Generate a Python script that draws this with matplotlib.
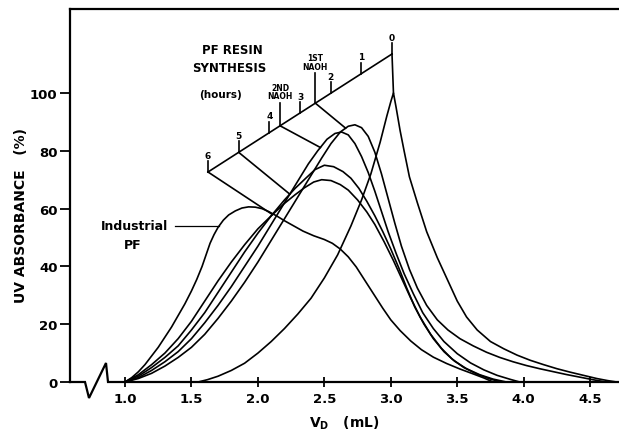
import numpy as np
import matplotlib
matplotlib.use('Agg')
import matplotlib.pyplot as plt

plt.rcParams['font.family'] = ['DejaVu Sans']
plt.rcParams['font.weight'] = 'bold'

# --- data (V in mL, absorbance in %) ---
x_0h = [1.55, 1.62, 1.7, 1.8, 1.9, 2.0, 2.1, 2.2, 2.3, 2.4, 2.5, 2.6, 2.7, 2.78, 2.85, 2.92,
        2.97, 3.0, 3.02, 3.04, 3.07, 3.1, 3.14, 3.2, 3.27, 3.35, 3.43, 3.5, 3.57, 3.65, 3.75,
        3.85, 3.95, 4.05, 4.15, 4.25, 4.35, 4.45, 4.55, 4.63, 4.7]
y_0h = [0, 0.8, 2, 4, 6.5, 10, 14, 18.5, 23.5, 29, 36, 44, 54, 63, 72, 83,
        92, 97, 100, 95, 87, 80, 71, 62, 52, 43, 35, 28, 22.5, 18, 14,
        11.5, 9.3, 7.5, 6, 4.6, 3.4, 2.3, 1.2, 0.5, 0]

x_naoh1 = [1.0, 1.1, 1.2, 1.3, 1.4, 1.5, 1.6, 1.7, 1.8, 1.9, 2.0, 2.1, 2.2, 2.3, 2.4, 2.48,
           2.55, 2.62, 2.68, 2.73, 2.78, 2.83, 2.88, 2.93, 2.98, 3.03, 3.08, 3.14, 3.2, 3.27,
           3.35, 3.43, 3.52, 3.62, 3.72, 3.82, 3.92, 4.02, 4.12, 4.22, 4.32, 4.42, 4.52, 4.62]
y_naoh1 = [0, 1.2, 3, 5.5, 8.5, 12, 16.5, 22, 28, 34.5, 41.5, 49, 56.5, 64, 71.5, 77.5,
           82.5, 86.5, 88.5, 89, 88, 85, 79.5, 72, 63.5, 55, 47, 39, 32.5, 26.5,
           21.5, 18, 15, 12.5, 10.3, 8.5, 7, 5.7, 4.6, 3.6, 2.6, 1.7, 0.8, 0]

x_naoh2 = [1.0, 1.1, 1.2, 1.3, 1.4, 1.5, 1.6, 1.7, 1.8, 1.9, 2.0, 2.1, 2.2, 2.3, 2.38, 2.45,
           2.52, 2.58, 2.63, 2.68, 2.73, 2.78, 2.83, 2.88, 2.93, 2.98, 3.04, 3.1, 3.17, 3.24,
           3.32, 3.4, 3.5, 3.6, 3.7, 3.8, 3.9, 3.97]
y_naoh2 = [0, 1.5, 4, 7, 10.5, 15, 20.5, 26.5, 33, 40, 47, 54.5, 62, 69.5, 75.5, 80,
           84, 86, 86.5, 85.5, 82.5, 78, 72.5, 66, 59, 52, 44.5, 37.5, 30.5, 24,
           18.5, 14, 9.8, 6.6, 4.2, 2.3, 0.9, 0]

x_5h = [1.0, 1.1, 1.2, 1.3, 1.4, 1.5, 1.6, 1.7, 1.8, 1.9, 2.0, 2.1, 2.2, 2.28, 2.36, 2.43,
        2.5, 2.57, 2.64, 2.7, 2.76, 2.82, 2.88, 2.94, 3.0, 3.06, 3.12, 3.18, 3.25, 3.32,
        3.4, 3.48, 3.57, 3.67, 3.77, 3.87]
y_5h = [0, 2, 5, 8.5, 12.5, 18, 24, 31, 38, 45, 51.5, 57.5, 63, 67, 70.5, 73.5,
        75, 74.5, 72.8, 70.5, 67, 62.5, 57.5, 52, 46, 39.5, 32.5, 26, 20, 15,
        10.5, 7.2, 4.6, 2.5, 1, 0]

x_6h = [1.0, 1.1, 1.2, 1.3, 1.4, 1.5, 1.6, 1.7, 1.8, 1.9, 2.0, 2.1, 2.2, 2.28, 2.35, 2.42,
        2.48, 2.55, 2.62, 2.68, 2.75, 2.82, 2.88, 2.95, 3.02, 3.08, 3.15, 3.22, 3.3, 3.38,
        3.46, 3.55, 3.65, 3.75, 3.83]
y_6h = [0, 2.5, 6, 10, 15, 21, 28, 35, 41.5, 47.5, 53, 57.5, 61.8, 64.8, 67.2, 69.2,
        70, 69.7, 68.3, 66.4, 63, 58.8, 54.5, 48.5, 42, 36, 29, 22.5, 16.5, 11.7,
        8, 5, 2.7, 1, 0]

x_ind = [1.0, 1.05, 1.1, 1.15, 1.2, 1.25, 1.3, 1.35, 1.4, 1.45, 1.5, 1.54, 1.58, 1.61, 1.64,
         1.67, 1.7, 1.74, 1.78, 1.83, 1.88, 1.93, 1.98, 2.03, 2.08, 2.14, 2.2, 2.27, 2.34,
         2.42, 2.5, 2.56, 2.62, 2.68, 2.74, 2.8, 2.87, 2.94, 3.0, 3.07, 3.15, 3.23, 3.32,
         3.42, 3.52, 3.62, 3.7, 3.77]
y_ind = [0, 1.5, 3.5, 6, 9, 12, 15.5, 19, 23, 27, 31.5, 35.5, 40, 44, 48,
         51, 53.5, 56, 57.8, 59.2, 60.2, 60.6, 60.5, 60, 59, 57.5, 55.8, 54, 52.2,
         50.6, 49.3, 48, 46, 43.3, 39.8, 35.5, 30.5, 25.5, 21.5, 17.8, 14.2, 11.2, 8.6,
         6.4, 4.5, 2.8, 1.4, 0]

# synthesis time axis: hour ticks and NaOH additions (hours)
hour_ticks = [0, 1, 2, 3, 4, 5, 6]
naoh_times = [2.5, 3.65]
naoh_labels = ['1ST\nNAOH', '2ND\nNAOH']
# which curve each time points to, and V where the pointer meets it
pointers = [(0, x_0h, y_0h, 3.02), (2.5, x_naoh1, y_naoh1, 2.66),
            (3.65, x_naoh2, y_naoh2, 2.47), (5, x_5h, y_5h, 2.24), (6, x_6h, y_6h, 2.11)]

xticks = [1.0, 1.5, 2.0, 2.5, 3.0, 3.5, 4.0, 4.5]
yticks = [0, 20, 40, 60, 80, 100]


def px(x, y):
    # pixel position in the 619x435 picture -> data coords
    return 1 + (x - 125) / 132.9, (383 - y) / 2.89


fig = plt.figure(figsize=(6.19, 4.35), dpi=100)
ax = fig.add_axes([70 / 619, (435 - 383) / 435, 549 / 619, (383 - 10) / 435])
ax.set_xlim(px(70, 0)[0], px(619, 0)[0])
ax.set_ylim(0, px(0, 10)[1])

lw = 1.2
for xs, ys in [(x_0h, y_0h), (x_naoh1, y_naoh1), (x_naoh2, y_naoh2),
               (x_5h, y_5h), (x_6h, y_6h), (x_ind, y_ind)]:
    ax.plot(xs, ys, color='black', lw=lw, solid_joinstyle='round')

# time axis line
p6 = np.array(px(208, 173))
p0 = np.array(px(392, 55))


def tpos(h):
    return p6 + (p0 - p6) * (6 - h) / 6


ax.plot([p6[0], p0[0]], [p6[1], p0[1]], color='black', lw=lw)
for h in hour_ticks:
    b = tpos(h)
    ax.plot([b[0], b[0]], [b[1], b[1] + 3.8], color='black', lw=lw)
    ax.text(b[0], b[1] + 4.3, str(h), ha='center', va='bottom', fontsize=6.5, fontweight='bold')
for h, lab, ln in zip(naoh_times, naoh_labels, [10.5, 8.0]):
    b = tpos(h)
    ax.plot([b[0], b[0]], [b[1], b[1] + ln], color='black', lw=lw)
    ax.text(b[0], b[1] + ln + 0.8, lab, ha='center', va='bottom', fontsize=5.5,
            fontweight='bold', linespacing=0.95)
for h, xs, ys, xe in pointers:
    b = tpos(h)
    ye = np.interp(xe, xs, ys)
    ax.plot([b[0], xe], [b[1], ye], color='black', lw=lw)

ax.text(*px(232, 50), 'PF RESIN', ha='center', va='center', fontsize=8.5, fontweight='bold')
ax.text(*px(229, 69), 'SYNTHESIS', ha='center', va='center', fontsize=8.5, fontweight='bold')
ax.text(*px(221, 95), '(hours)', ha='center', va='center', fontsize=7.5, fontweight='bold')

# industrial PF label with pointer
ax.text(*px(135, 227), 'Industrial', ha='center', va='center', fontsize=9, fontweight='bold')
ax.text(*px(133, 246), 'PF', ha='center', va='center', fontsize=9, fontweight='bold')
ly = px(0, 227)[1]
ax.plot([px(175, 0)[0], np.interp(ly, y_ind[:18], x_ind[:18])], [ly, ly], color='black', lw=0.9)

# axes frame: left + top, bottom with a break mark
for s in ['right', 'bottom']:
    ax.spines[s].set_visible(False)
for s in ['left', 'top']:
    ax.spines[s].set_linewidth(1.6)
brk = [px(70, 383), px(85, 383), px(89, 399), px(106, 364), px(108, 383), px(619, 383)]
ax.plot([b[0] for b in brk], [b[1] for b in brk], color='black', lw=1.6,
        clip_on=False, solid_joinstyle='miter')

ax.set_xticks(xticks)
ax.set_xticklabels([f'{v:.1f}' for v in xticks])
ax.set_yticks(yticks)
ax.tick_params(axis='x', direction='inout', length=7, width=1.3, labelsize=9.5, pad=4)
ax.tick_params(axis='y', direction='out', length=7, width=1.3, labelsize=9.5, pad=2)
for t in ax.get_xticklabels() + ax.get_yticklabels():
    t.set_fontweight('bold')

ax.set_ylabel('UV ABSORBANCE   (%)', fontsize=10, fontweight='bold')
ax.yaxis.set_label_coords(-42 / 549, 0.45)
ax.set_xlabel(r'$\mathbf{V_D}$   (mL)', fontsize=10, fontweight='bold', labelpad=6)

fig.savefig('out.png', dpi=100)
